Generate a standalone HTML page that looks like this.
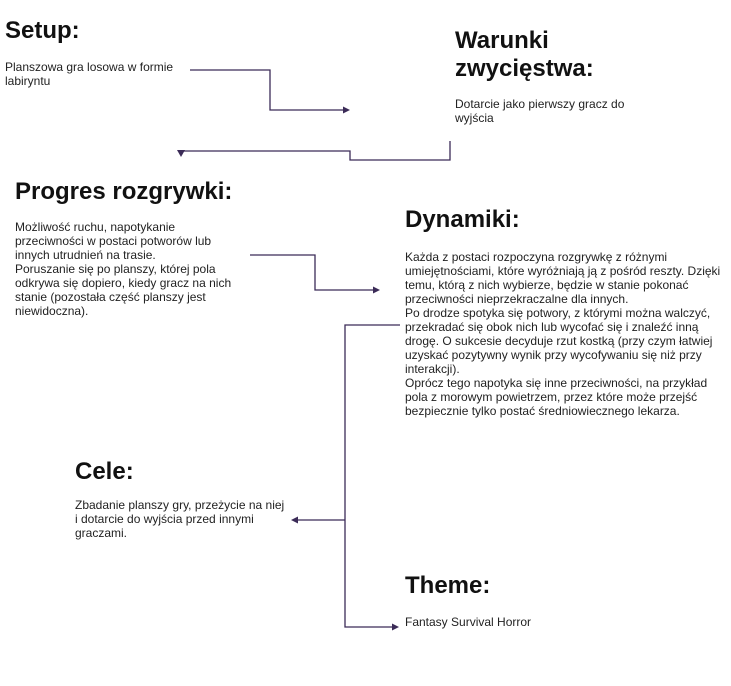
<!DOCTYPE html>
<html><head><meta charset="utf-8"><style>
body{margin:0;width:731px;height:686px;background:#fff;position:relative;overflow:hidden;font-family:"Liberation Sans",sans-serif;color:#111}
.h{position:absolute;font-weight:bold;font-size:24px;line-height:28px;white-space:nowrap}
.t{position:absolute;font-size:12px;line-height:14px;color:#222;white-space:nowrap}
svg{position:absolute;left:0;top:0}
</style></head><body>
<svg width="731" height="686" fill="none" stroke="#3b2b57" stroke-width="1.3">
<polyline points="190,70 270,70 270,110 345,110"/><path d="M350,110 l-7,-3.5 v7z" fill="#3b2b57" stroke="none"/>
<polyline points="450,141 450,160 350,160 350,151 181,151"/><path d="M177,150 h8 l-4,7z" fill="#3b2b57" stroke="none"/>
<polyline points="250,255 315,255 315,290 375,290"/><path d="M380,290 l-7,-3.5 v7z" fill="#3b2b57" stroke="none"/>
<polyline points="400,325 345,325 345,627 393,627"/><path d="M399,627 l-7,-3.5 v7z" fill="#3b2b57" stroke="none"/>
<polyline points="345,520 297,520"/><path d="M291,520 l7,-3.5 v7z" fill="#3b2b57" stroke="none"/>
</svg>
<div class="h" style="left:5px;top:17px">Setup:</div>
<div class="t" style="left:5px;top:60px">Planszowa gra losowa w formie<br>labiryntu</div>
<div class="h" style="left:455px;top:27px">Warunki<br>zwycięstwa:</div>
<div class="t" style="left:455px;top:97px">Dotarcie jako pierwszy gracz do<br>wyjścia</div>
<div class="h" style="left:15px;top:178px">Progres rozgrywki:</div>
<div class="t" style="left:15px;top:220px">Możliwość ruchu, napotykanie<br>przeciwności w postaci potworów lub<br>innych utrudnień na trasie.<br>Poruszanie się po planszy, której pola<br>odkrywa się dopiero, kiedy gracz na nich<br>stanie (pozostała część planszy jest<br>niewidoczna).</div>
<div class="h" style="left:405px;top:206px">Dynamiki:</div>
<div class="t" style="left:405px;top:250px">Każda z postaci rozpoczyna rozgrywkę z różnymi<br>umiejętnościami, które wyróżniają ją z pośród reszty. Dzięki<br>temu, którą z nich wybierze, będzie w stanie pokonać<br>przeciwności nieprzekraczalne dla innych.<br>Po drodze spotyka się potwory, z którymi można walczyć,<br>przekradać się obok nich lub wycofać się i znaleźć inną<br>drogę. O sukcesie decyduje rzut kostką (przy czym łatwiej<br>uzyskać pozytywny wynik przy wycofywaniu się niż przy<br>interakcji).<br>Oprócz tego napotyka się inne przeciwności, na przykład<br>pola z morowym powietrzem, przez które może przejść<br>bezpiecznie tylko postać średniowiecznego lekarza.</div>
<div class="h" style="left:75px;top:458px">Cele:</div>
<div class="t" style="left:75px;top:498px">Zbadanie planszy gry, przeżycie na niej<br>i dotarcie do wyjścia przed innymi<br>graczami.</div>
<div class="h" style="left:405px;top:572px">Theme:</div>
<div class="t" style="left:405px;top:615px">Fantasy Survival Horror</div>
</body></html>
